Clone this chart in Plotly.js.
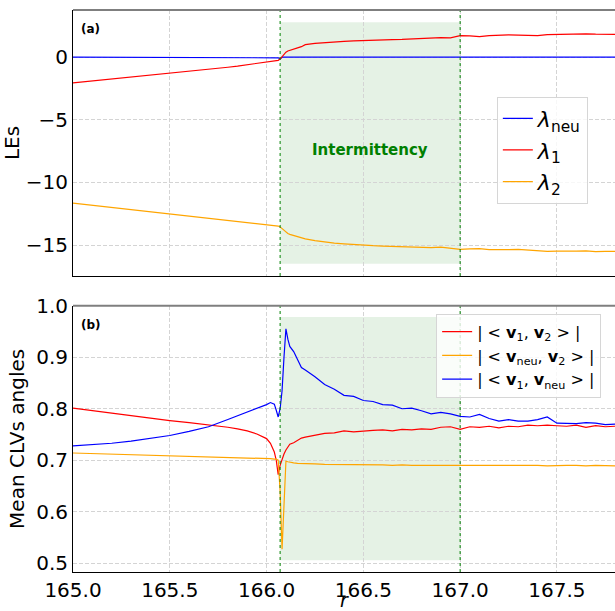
<!DOCTYPE html>
<html>
<head>
<meta charset="utf-8">
<script src="https://cdn.plot.ly/plotly-3.0.1.min.js"></script>
<style>html,body{margin:0;padding:0;background:#fff;}#chart{width:615px;height:611px;}</style>
</head>
<body>
<div id="chart"></div>
<script>
// ---- data ----
const r = [165.0,165.1,165.2,165.3,165.4,165.5,165.6,165.7,165.8,165.85,165.9,165.95,166.0,
  166.02,166.04,166.05,166.06,166.07,166.08,166.09,166.10,166.11,166.12,166.14,166.16,166.18,
  166.20,166.25,166.30,166.35,166.40,166.45,166.50,166.55,166.60,166.65,166.70,166.75,166.80,166.85,
  166.90,166.95,167.00,167.05,167.10,167.15,167.20,167.25,167.30,167.35,167.40,167.45,167.50,167.55,
  167.60,167.65,167.70,167.75,167.80];

const lamNeu = [0,0,0,0,0,0,0,0,0,0,0,0,0,
  0,0,-0.02,-0.05,-0.15,0.0,0,0,0,0,0,0,0,
  0,0,0,0,0,0,0,0,0,0,0,0,0,0,
  0,0,0,0,0,0,0,0,0,0,0,0,0,0,
  0,0,0,0,0];

const lam1 = [-2.05,-1.90,-1.75,-1.60,-1.45,-1.30,-1.14,-0.97,-0.80,-0.71,-0.61,-0.51,-0.41,
  -0.37,-0.32,-0.29,-0.25,-0.15,0.05,0.25,0.40,0.50,0.56,0.65,0.75,0.84,
  1.00,1.10,1.17,1.22,1.27,1.31,1.35,1.37,1.38,1.41,1.42,1.47,1.50,1.52,
  1.57,1.55,1.73,1.70,1.64,1.72,1.76,1.78,1.77,1.75,1.72,1.81,1.83,1.86,
  1.88,1.87,1.84,1.85,1.83];

const lam2 = [-11.65,-11.82,-11.99,-12.16,-12.33,-12.50,-12.67,-12.84,-13.01,-13.10,-13.18,-13.27,-13.35,
  -13.39,-13.42,-13.45,-13.48,-13.55,-13.70,-13.85,-13.98,-14.08,-14.15,-14.25,-14.33,-14.40,
  -14.50,-14.64,-14.77,-14.84,-14.90,-14.96,-15.03,-15.05,-15.08,-15.10,-15.15,-15.14,-15.18,-15.20,
  -15.16,-15.28,-15.35,-15.30,-15.28,-15.36,-15.38,-15.37,-15.35,-15.40,-15.46,-15.50,-15.49,-15.51,
  -15.48,-15.46,-15.52,-15.50,-15.51];

const ang12 = [0.801,0.796,0.791,0.787,0.782,0.777,0.773,0.769,0.764,0.761,0.757,0.751,0.742,
  0.733,0.716,0.700,0.672,0.690,0.702,0.712,0.720,0.727,0.731,0.734,0.739,0.743,
  0.745,0.748,0.752,0.753,0.757,0.755,0.757,0.758,0.759,0.757,0.760,0.759,0.761,0.760,
  0.764,0.765,0.760,0.765,0.764,0.766,0.763,0.766,0.765,0.768,0.767,0.768,0.767,0.766,
  0.768,0.764,0.767,0.765,0.766];

const angNeu2 = [0.714,0.713,0.712,0.711,0.710,0.709,0.708,0.707,0.706,0.705,0.704,0.704,0.703,
  0.703,0.702,0.702,0.700,0.640,0.527,0.610,0.698,0.697,0.696,0.695,0.694,0.694,
  0.693,0.693,0.692,0.692,0.692,0.691,0.691,0.691,0.691,0.690,0.691,0.690,0.690,0.691,
  0.690,0.690,0.690,0.690,0.691,0.690,0.690,0.691,0.690,0.690,0.690,0.689,0.690,0.690,
  0.690,0.689,0.690,0.689,0.689];

const ang1Neu = [0.728,0.730,0.733,0.737,0.742,0.748,0.756,0.765,0.779,0.786,0.794,0.801,0.808,
  0.812,0.809,0.797,0.784,0.800,0.835,0.900,0.955,0.935,0.921,0.911,0.895,0.880,
  0.875,0.862,0.847,0.838,0.826,0.824,0.816,0.814,0.808,0.807,0.800,0.801,0.796,0.790,
  0.793,0.790,0.785,0.784,0.789,0.781,0.776,0.779,0.776,0.776,0.779,0.784,0.772,0.772,
  0.771,0.773,0.772,0.769,0.770];

const intermittency = [166.07, 167.0];
const shadeTop = [-16.5, 2.8];
const shadeBottom = [0.506, 0.978];
const xTicks = [165.0, 165.5, 166.0, 166.5, 167.0, 167.5];
const yTopTicks = [0, -5, -10, -15];
const yBotTicks = [0.5, 0.6, 0.7, 0.8, 0.9, 1.0];

// ---- plot ----
const FONT = 'DejaVu Sans, sans-serif';
const traces = [
  {x: r, y: lamNeu, xaxis: 'x', yaxis: 'y', mode: 'lines', name: '<i>λ</i><sub>neu</sub>',
   line: {color: '#0000ff', width: 1.2}, legend: 'legend'},
  {x: r, y: lam1, xaxis: 'x', yaxis: 'y', mode: 'lines', name: '<i>λ</i><sub>1</sub>',
   line: {color: '#ff0000', width: 1.2}, legend: 'legend'},
  {x: r, y: lam2, xaxis: 'x', yaxis: 'y', mode: 'lines', name: '<i>λ</i><sub>2</sub>',
   line: {color: '#ffa500', width: 1.2}, legend: 'legend'},
  {x: r, y: ang12, xaxis: 'x2', yaxis: 'y2', mode: 'lines', name: '| &lt; <b>v</b><sub>1</sub>, <b>v</b><sub>2</sub> &gt; |',
   line: {color: '#ff0000', width: 1.2}, legend: 'legend2'},
  {x: r, y: angNeu2, xaxis: 'x2', yaxis: 'y2', mode: 'lines', name: '| &lt; <b>v</b><sub>neu</sub>, <b>v</b><sub>2</sub> &gt; |',
   line: {color: '#ffa500', width: 1.2}, legend: 'legend2'},
  {x: r, y: ang1Neu, xaxis: 'x2', yaxis: 'y2', mode: 'lines', name: '| &lt; <b>v</b><sub>1</sub>, <b>v</b><sub>neu</sub> &gt; |',
   line: {color: '#0000ff', width: 1.2}, legend: 'legend2'}
];

const gridStyle = {showgrid: true, gridcolor: '#d4d4d4', griddash: '4px,2px', gridwidth: 1, zeroline: false,
  showline: true, linecolor: '#000', linewidth: 1, ticks: '', automargin: false,
  tickfont: {family: FONT, size: 20, color: '#000'}};

const shapes = [];
// shaded intermittency regions
shapes.push({type: 'rect', xref: 'x', yref: 'y', x0: intermittency[0], x1: intermittency[1],
  y0: shadeTop[0], y1: shadeTop[1], fillcolor: 'rgba(0,128,0,0.1)', line: {width: 0}, layer: 'below'});
shapes.push({type: 'rect', xref: 'x2', yref: 'y2', x0: intermittency[0], x1: intermittency[1],
  y0: shadeBottom[0], y1: shadeBottom[1], fillcolor: 'rgba(0,128,0,0.1)', line: {width: 0}, layer: 'below'});
// vertical boundaries
intermittency.forEach(v => {
  shapes.push({type: 'line', xref: 'x', yref: 'y domain', x0: v, x1: v, y0: 0, y1: 1,
    line: {color: '#008000', width: 1, dash: 'dot'}});
  shapes.push({type: 'line', xref: 'x2', yref: 'y2 domain', x0: v, x1: v, y0: 0, y1: 1,
    line: {color: '#008000', width: 1, dash: 'dot'}});
});
// grey top spines
shapes.push({type: 'line', xref: 'x domain', yref: 'y domain', x0: 0, x1: 1, y0: 1, y1: 1,
  line: {color: '#7f7f7f', width: 2}});
shapes.push({type: 'line', xref: 'x2 domain', yref: 'y2 domain', x0: 0, x1: 1, y0: 1, y1: 1,
  line: {color: '#7f7f7f', width: 2}});

const layout = {
  width: 615, height: 611,
  margin: {l: 73, r: 0, t: 10, b: 39},
  paper_bgcolor: '#fff', plot_bgcolor: '#fff',
  font: {family: FONT, color: '#000'},
  xaxis: Object.assign({}, gridStyle, {domain: [0, 1], anchor: 'y', range: [165, 167.8],
    tickvals: xTicks, showticklabels: false, matches: 'x2'}),
  yaxis: Object.assign({}, gridStyle, {domain: [0.5267, 1], anchor: 'x', range: [-17.47, 3.77],
    tickvals: yTopTicks, title: {text: 'LEs', font: {family: FONT, size: 20}, standoff: 12}}),
  xaxis2: Object.assign({}, gridStyle, {domain: [0, 1], anchor: 'y2', range: [165, 167.8],
    tickvals: xTicks, tickformat: '.1f'}),
  yaxis2: Object.assign({}, gridStyle, {domain: [0, 0.4738], anchor: 'x2', range: [0.483, 1.0],
    tickvals: yBotTicks, tickformat: '.1f',
    title: {text: 'Mean CLVs angles', font: {family: FONT, size: 20}, standoff: 6}}),
  legend: {x: 0.782, y: 0.846, xanchor: 'left', yanchor: 'top', xref: 'paper', yref: 'paper',
    bgcolor: 'rgba(255,255,255,0.8)', bordercolor: '#d6d6d6', borderwidth: 1,
    font: {family: FONT, size: 22}},
  legend2: {x: 0.670, y: 0.4596, xanchor: 'left', yanchor: 'top', xref: 'paper', yref: 'paper',
    bgcolor: 'rgba(255,255,255,0.8)', bordercolor: '#d6d6d6', borderwidth: 1,
    font: {family: FONT, size: 16}},
  shapes: shapes,
  annotations: [
    {xref: 'paper', yref: 'paper', x: 0.011, y: 0.967, xanchor: 'left', yanchor: 'middle',
     text: '<b>(a)</b>', showarrow: false, font: {family: FONT, size: 12, color: '#000'}},
    {xref: 'paper', yref: 'paper', x: 0.011, y: 0.44, xanchor: 'left', yanchor: 'middle',
     text: '<b>(b)</b>', showarrow: false, font: {family: FONT, size: 12, color: '#000'}},
    {xref: 'x', yref: 'y', x: (intermittency[0] + intermittency[1]) / 2, y: -7.4,
     text: '<b>Intermittency</b>', showarrow: false, font: {family: FONT, size: 15, color: '#008000'}},
    {xref: 'paper', yref: 'paper', x: 0.5, y: -0.049, xanchor: 'center', yanchor: 'middle',
     text: '<i>r</i>', showarrow: false, font: {family: FONT, size: 19, color: '#000'}}
  ],
  showlegend: true
};

Plotly.newPlot('chart', traces, layout, {staticPlot: true, displayModeBar: false});
</script>
</body>
</html>
